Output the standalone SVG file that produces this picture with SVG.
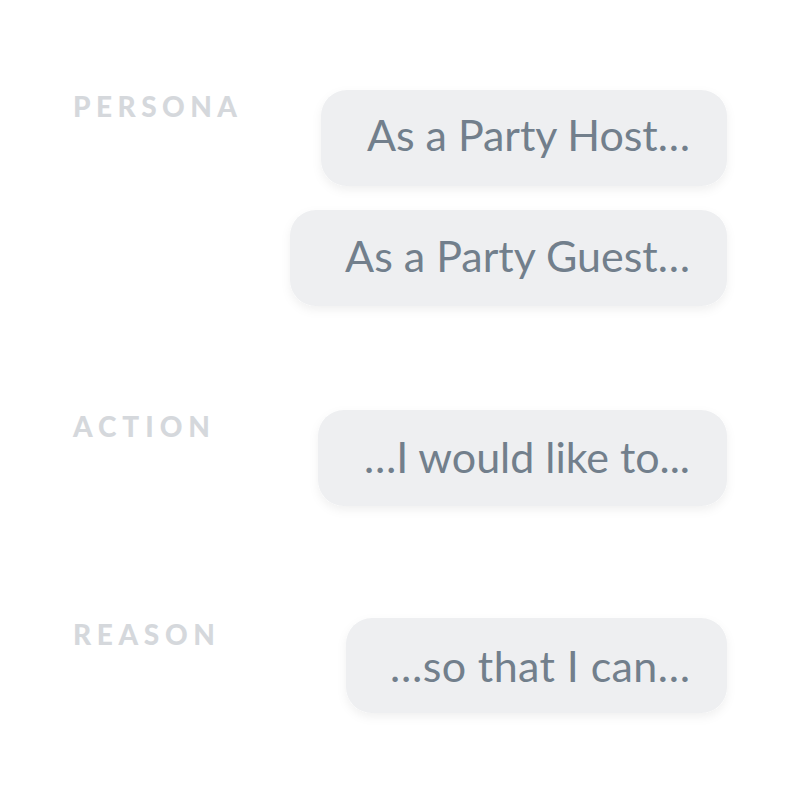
<svg xmlns="http://www.w3.org/2000/svg" width="800" height="800" viewBox="0 0 800 800">
<defs>
<filter id="sh" x="-10%" y="-20%" width="120%" height="150%">
<feDropShadow dx="0" dy="4" stdDeviation="5" flood-color="#000" flood-opacity="0.06"/>
</filter>
<style>
.box{fill:#eeeff1;filter:url(#sh)}
.t{font-family:Lato,"Open Sans",sans-serif;font-size:43px;fill:#727f8c;text-anchor:end}
.lbl{font-family:Lato,"Liberation Sans",sans-serif;font-size:28px;font-weight:900;fill:#d5d8dc}
</style>
</defs>
<rect width="800" height="800" fill="#fff"/>
<g id="label-persona"><text class="lbl" x="73" y="117" textLength="164" lengthAdjust="spacing">PERSONA</text></g>
<g id="label-action"><text class="lbl" x="73" y="437" textLength="137" lengthAdjust="spacing">ACTION</text></g>
<g id="label-reason"><text class="lbl" x="73" y="645" textLength="142" lengthAdjust="spacing">REASON</text></g>
<g id="node-host"><rect class="box" x="321" y="90" width="406" height="96" rx="26"/><text class="t" x="690" y="151" textLength="323" lengthAdjust="spacing">As a Party Host…</text></g>
<g id="node-guest"><rect class="box" x="290" y="210" width="437" height="96" rx="26"/><text class="t" x="690" y="272" textLength="345" lengthAdjust="spacing">As a Party Guest…</text></g>
<g id="node-action"><rect class="box" x="318" y="410" width="409" height="96" rx="26"/><text class="t" x="690" y="473" textLength="326" lengthAdjust="spacing">…I would like to...</text></g>
<g id="node-reason"><rect class="box" x="346" y="618" width="381" height="95" rx="26"/><text class="t" x="690" y="682" textLength="300" lengthAdjust="spacing">…so that I can…</text></g>
<g id="connectors"/>
</svg>
